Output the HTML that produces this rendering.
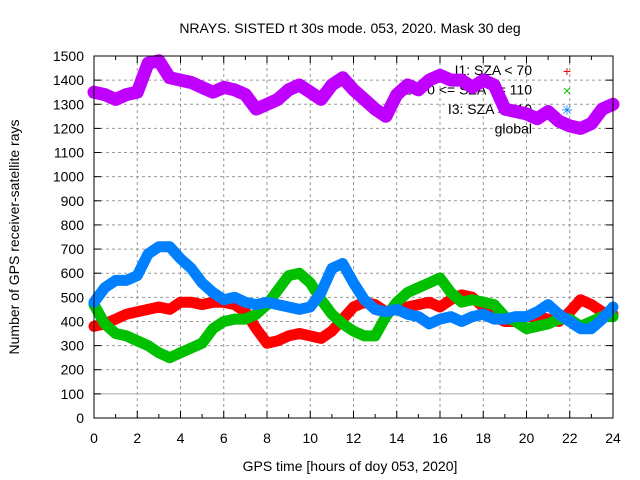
<!DOCTYPE html>
<html><head><meta charset="utf-8"><style>
body{margin:0;background:#fff}
svg{display:block;font-family:"Liberation Sans",sans-serif}
</style></head><body>
<svg id="chart" width="640" height="480" viewBox="0 0 640 480">
<rect width="640" height="480" fill="#fff"/>
<text x="350" y="33" font-size="14" text-anchor="middle">NRAYS. SISTED rt 30s mode. 053, 2020. Mask 30 deg</text>
<g id="grid"></g>
<g id="axes"></g>
<g id="legend"></g>
<g id="series"></g>
<rect x="94" y="56" width="519" height="362" fill="none" stroke="#000" stroke-width="1"/>
<text x="350" y="471" font-size="14" text-anchor="middle">GPS time [hours of doy 053, 2020]</text>
<text transform="translate(19,237) rotate(-90)" font-size="14" text-anchor="middle">Number of GPS receiver-satellite rays</text>
</svg>
<script>
const hours=[0,0.5,1,1.5,2,2.5,3,3.5,4,4.5,5,5.5,6,6.5,7,7.5,8,8.5,9,9.5,10,10.5,11,11.5,12,12.5,13,13.5,14,14.5,15,15.5,16,16.5,17,17.5,18,18.5,19,19.5,20,20.5,21,21.5,22,22.5,23,23.5,24];
const globalRays=[1350,1340,1320,1340,1350,1470,1480,1410,1400,1390,1370,1350,1370,1360,1340,1280,1300,1320,1360,1380,1350,1320,1380,1410,1360,1320,1280,1250,1340,1380,1360,1400,1420,1400,1400,1370,1400,1380,1280,1270,1260,1240,1270,1230,1210,1200,1220,1280,1300];
const i1Rays=[380,390,410,430,440,450,460,450,480,480,470,480,480,470,440,370,310,320,340,350,340,330,360,410,460,480,470,440,450,460,470,480,460,490,510,500,460,420,400,400,420,420,410,400,440,490,470,440,430];
const i2Rays=[470,390,350,340,320,300,270,250,270,290,310,370,400,410,410,430,470,530,590,600,560,490,430,390,360,340,340,420,480,520,540,560,580,520,480,490,480,470,420,400,370,380,390,410,410,380,400,420,420];
const i3Rays=[480,540,570,570,590,680,710,710,660,620,560,520,490,500,480,470,480,470,460,450,460,520,620,640,560,490,450,440,450,430,420,390,410,420,400,420,430,410,410,420,420,440,470,430,400,370,370,410,460];
const xTicks=[0,2,4,6,8,10,12,14,16,18,20,22,24];
const yTicks=[0,100,200,300,400,500,600,700,800,900,1000,1100,1200,1300,1400,1500];
const legendLabels=["I1: SZA < 70","I2: 70 <= SZA <= 110","I3: SZA > 110","global"];
const NS="http://www.w3.org/2000/svg";
const X=h=>94+h*(519/24), Y=v=>418-v*(362/1500);
function mk(t,a,p){const e=document.createElementNS(NS,t);for(const k in a)e.setAttribute(k,a[k]);p.appendChild(e);return e;}
const grid=document.getElementById('grid'),axes=document.getElementById('axes');
xTicks.forEach(t=>{
 if(t>0&&t<24){const l=mk('line',{x1:X(t),x2:X(t),y1:56,y2:418,stroke:'#999','stroke-dasharray':'3,3'},grid);
 
 }
 const tx=mk('text',{x:X(t),y:443,'font-size':14,'text-anchor':'middle'},axes);tx.textContent=t;
 
 
});
for(let h=0;h<=24;h++){mk('line',{x1:X(h),x2:X(h),y1:418,y2:h%2?414:411,stroke:'#000'},axes);mk('line',{x1:X(h),x2:X(h),y1:56,y2:h%2?60:63,stroke:'#000'},axes);}
yTicks.forEach(v=>{
 if(v>0&&v<1500){
 if(v===100){const l=mk('line',{x1:94,x2:613,y1:Y(v),y2:Y(v),stroke:'#aaa'},grid);
 
 }
 else{const l=mk('line',{x1:94,x2:613,y1:Y(v),y2:Y(v),stroke:'#999','stroke-dasharray':'3,3'},grid);
 
 }}
 mk('line',{x1:94,x2:101,y1:Y(v),y2:Y(v),stroke:'#000'},axes);mk('line',{x1:606,x2:613,y1:Y(v),y2:Y(v),stroke:'#000'},axes);
 const tx=mk('text',{x:84,y:Y(v)+5,'font-size':14,'text-anchor':'end'},axes);tx.textContent=v;
 
 
});
const legend=document.getElementById('legend');
const colors=['#ff0000','#00c000','#0080ff','#c000ff'],marks=['+','×','✳',''];
legendLabels.forEach((s,i)=>{
 const t=mk('text',{x:532,y:75+i*19.5,'font-size':14,'text-anchor':'end'},legend);t.textContent=s;
 
 
 if(marks[i]){const m=mk('text',{x:567,y:76+i*19.5,'font-size':14,'text-anchor':'middle',fill:colors[i]},legend);m.textContent=marks[i];
 
 }
});
const series=document.getElementById('series');
[[i1Rays,'series-i1'],[i2Rays,'series-i2'],[i3Rays,'series-i3'],[globalRays,'series-global']].forEach(([d,n],i)=>{
 const pts=d.map((v,j)=>X(hours[j]).toFixed(1)+','+Y(v).toFixed(1)).join(' ');
 const p=mk('polyline',{points:pts,fill:'none',stroke:colors[i],'stroke-width':i===3?13:11,'stroke-linejoin':'round','stroke-linecap':'round'},series);
 
 
});
</script>
</body></html>
